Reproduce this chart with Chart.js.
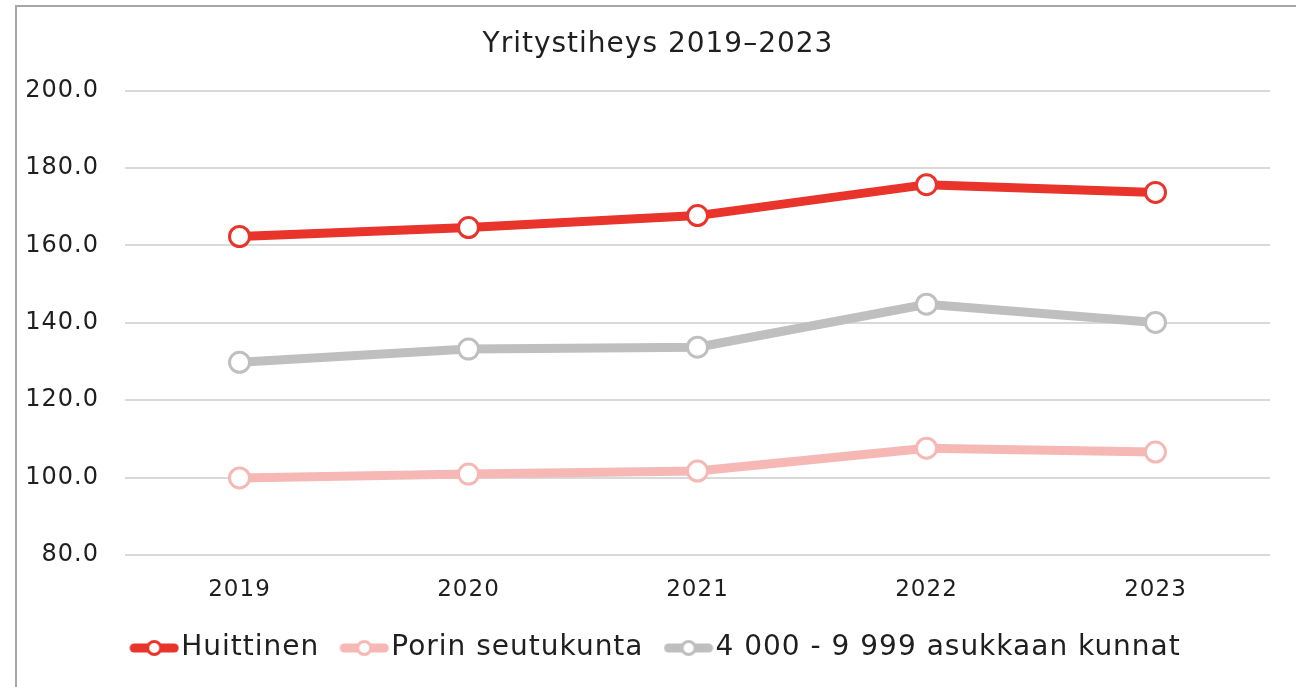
<!DOCTYPE html>
<html>
<head>
<meta charset="utf-8">
<script src="https://cdn.jsdelivr.net/npm/chart.js@4"></script>
<style>
html,body{margin:0;padding:0;background:#fff;}
#wrap{position:absolute;left:0;top:0;width:1296px;height:687px;}
#frame{position:absolute;left:15px;top:5px;width:1290px;height:700px;border-left:2px solid #A6A6A6;border-top:2px solid #A6A6A6;box-sizing:border-box;pointer-events:none;}
canvas{position:absolute;left:0;top:0;}
</style>
</head>
<body>
<div id="wrap"><canvas id="c" width="1296" height="687"></canvas><div id="frame"></div></div>
<script>
const titleText = "Yritystiheys 2019–2023";
const categories = ["2019", "2020", "2021", "2022", "2023"];
const seriesNames = ["Huittinen", "Porin seutukunta", "4 000 - 9 999 asukkaan kunnat"];
const huittinen = [162.3, 164.6, 167.7, 175.7, 173.7];
const porinSeutukunta = [99.9, 100.9, 101.7, 107.6, 106.6];
const kunnat4000 = [129.8, 133.2, 133.7, 144.8, 140.1];
const yTicks = [80, 100, 120, 140, 160, 180, 200];
const colors = ["#E8342B", "#F5B8B5", "#BFBFBF"];

const FONT = "'DejaVu Sans', sans-serif";
const TEXT = "#1f1f1f";

function legendGlyph(color) {
  const c = document.createElement('canvas');
  c.width = 50; c.height = 20;
  const g = c.getContext('2d');
  g.strokeStyle = color; g.lineWidth = 9; g.lineCap = 'round';
  g.beginPath(); g.moveTo(5, 10); g.lineTo(45, 10); g.stroke();
  g.fillStyle = '#fff'; g.lineWidth = 3;
  g.beginPath(); g.arc(25, 10, 6.5, 0, Math.PI * 2); g.fill(); g.stroke();
  return c;
}

const spacingPlugin = {
  id: 'spacing',
  beforeLayout(chart) { chart.ctx.letterSpacing = '1px'; },
  afterLayout(chart) {
    if (chart.legend) { chart.legend.left += 26; chart.legend.right += 26; }
    if (chart.titleBlock) { chart.titleBlock.left += 23; chart.titleBlock.right += 23; }
  },
  beforeDraw(chart) { chart.ctx.letterSpacing = '1px'; }
};

const seriesData = [huittinen, porinSeutukunta, kunnat4000];
const datasets = seriesNames.map((name, i) => ({
  label: name,
  data: seriesData[i],
  borderColor: colors[i],
  backgroundColor: colors[i],
  borderWidth: 9,
  tension: 0,
  pointRadius: 10,
  pointHoverRadius: 10,
  pointBorderWidth: 3,
  pointBackgroundColor: '#ffffff',
  pointBorderColor: colors[i]
}));

new Chart(document.getElementById('c'), {
  type: 'line',
  data: { labels: categories, datasets },
  plugins: [spacingPlugin],
  options: {
    responsive: false,
    animation: false,
    layout: { padding: { left: 0, right: 26, top: 0, bottom: 15 } },
    plugins: {
      tooltip: { enabled: false },
      title: {
        display: true,
        text: titleText,
        color: TEXT,
        font: { family: FONT, size: 28, weight: 'normal' },
        padding: { top: 28, bottom: 29 }
      },
      legend: {
        position: 'bottom',
        labels: {
          usePointStyle: true,
          pointStyleWidth: 26,
          padding: 32,
          color: TEXT,
          font: { family: FONT, size: 28 },
          generateLabels(chart) {
            return chart.data.datasets.map((d, i) => ({
              text: d.label,
              pointStyle: legendGlyph(colors[i]),
              fillStyle: colors[i],
              strokeStyle: colors[i],
              lineWidth: 0,
              hidden: false,
              datasetIndex: i,
              fontColor: TEXT
            }));
          }
        }
      }
    },
    scales: {
      x: {
        offset: true,
        grid: { display: false, drawTicks: false },
        border: { display: false },
        ticks: { color: TEXT, font: { family: FONT, size: 23 }, padding: 21 },
        afterFit(s) { s.height = 47; }
      },
      y: {
        min: 80, max: 200,
        afterBuildTicks(s) { s.ticks = yTicks.map(v => ({ value: v })); },
        grid: { color: '#D9D9D9', lineWidth: 2, drawTicks: false },
        border: { display: false },
        ticks: {
          color: TEXT, font: { family: FONT, size: 24 }, padding: 26,
          callback: v => Number(v).toFixed(1)
        },
        afterFit(s) { s.width = 125; }
      }
    }
  }
});
</script>
</body>
</html>
